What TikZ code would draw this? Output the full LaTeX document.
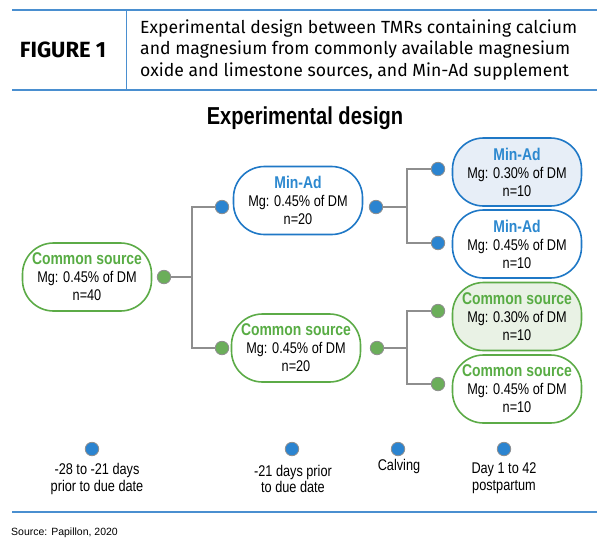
\documentclass[tikz,border=0pt]{standalone}
\usepackage{fontspec}
\setmainfont{Liberation Sans}
\newfontfamily\cond{Liberation Sans}[FakeStretch=0.82]
\newfontfamily\hdr{Fira Sans}
\usetikzlibrary{positioning}
\definecolor{hblue}{HTML}{4A8FD0}
\definecolor{nblue}{HTML}{1F78C6}
\definecolor{tblue}{HTML}{2C88CF}
\definecolor{ngreen}{HTML}{5CAB47}
\definecolor{tgreen}{HTML}{58AC44}
\definecolor{fblue}{HTML}{E7EEF7}
\definecolor{fgreen}{HTML}{E9F2E5}
\definecolor{dblue}{HTML}{2B84D0}
\definecolor{dgreen}{HTML}{6BAE5A}
\definecolor{lgray}{HTML}{8E8E8E}
\tikzset{
  pill/.style={draw, line width=1.6pt, rounded corners=31pt, minimum width=129pt, minimum height=68pt, inner sep=0pt, align=center, font=\cond\fontsize{15.5}{18}\selectfont},
  bluepill/.style={pill, draw=nblue},
  greenpill/.style={pill, draw=ngreen},
  dot/.style={circle, draw=lgray, line width=0.8pt, minimum size=13.5pt, inner sep=0pt},
  bdot/.style={dot, fill=dblue},
  gdot/.style={dot, fill=dgreen},
  conn/.style={draw=lgray, line width=1.3pt},
  tl/.style={font=\cond\fontsize{15.5}{16.5}\selectfont, align=center, inner sep=0pt},
  hline/.style={draw=hblue, line width=1.6pt}
}
\newcommand{\bt}[1]{{\color{tblue}\bfseries\fontsize{17}{18}\selectfont #1}}
\newcommand{\gt}[1]{{\color{tgreen}\bfseries\fontsize{17}{18}\selectfont #1}}
\begin{document}
\begin{tikzpicture}[x=1pt,y=-1pt]
\useasboundingbox (0,0) rectangle (610,550);
% header
\draw[hline] (12,10) -- (597,10);
\draw[hline] (12,90) -- (597,90);
\draw[draw=hblue, line width=0.9pt] (126,10) -- (126,90);
\node[font=\hdr\bfseries\fontsize{22}{24}\selectfont] (fig) at (63,50) {FIGURE 1};
\node[anchor=west, align=left, inner sep=0pt, font=\hdr\fontsize{17.6}{21.5}\selectfont] (cap) at (140,50)
  {Experimental design between TMRs containing calcium\\and magnesium from commonly available magnesium\\oxide and limestone sources, and Min-Ad supplement};
% title
\node[font=\cond\bfseries\fontsize{24.5}{28}\selectfont] (title) at (305,118) {Experimental design};
% nodes
\node[greenpill] (root) at (87,277) {\gt{Common source}\\Mg: 0.45\% of DM\\n=40};
\node[bluepill] (ma) at (298,200.5) {\bt{Min-Ad}\\Mg: 0.45\% of DM\\n=20};
\node[greenpill] (cs) at (296,348) {\gt{Common source}\\Mg: 0.45\% of DM\\n=20};
\node[bluepill, fill=fblue] (r1) at (517,172) {\bt{Min-Ad}\\Mg: 0.30\% of DM\\n=10};
\node[bluepill] (r2) at (517,244) {\bt{Min-Ad}\\Mg: 0.45\% of DM\\n=10};
\node[greenpill, fill=fgreen] (r3) at (517,316.5) {\gt{Common source}\\Mg: 0.30\% of DM\\n=10};
\node[greenpill] (r4) at (517,389) {\gt{Common source}\\Mg: 0.45\% of DM\\n=10};
% dots
\node[gdot] (d0) at (164,277) {};
\node[bdot] (d1) at (222,207) {};
\node[gdot] (d2) at (222,348) {};
\node[bdot] (d3) at (376,207) {};
\node[gdot] (d4) at (377,348) {};
\node[bdot] (d5) at (438,169) {};
\node[bdot] (d6) at (438,243) {};
\node[gdot] (d7) at (438,311) {};
\node[gdot] (d8) at (438,384) {};
% junctions
\coordinate (j0) at (192,277);
\coordinate (j1) at (407,207);
\coordinate (j2) at (407,348);
\draw[conn] (d0.east) -- (j0) |- (d1.west);
\draw[conn] (j0) |- (d2.west);
\draw[conn] (d3.east) -- (j1) |- (d5.west);
\draw[conn] (j1) |- (d6.west);
\draw[conn] (d4.east) -- (j2) |- (d7.west);
\draw[conn] (j2) |- (d8.west);
% timeline
\node[bdot] (t1) at (92,449) {};
\node[bdot] (t2) at (292,449) {};
\node[bdot] (t3) at (398,449) {};
\node[bdot] (t4) at (504,449) {};
\node[tl] (l1) at (97,479) {-28 to -21 days\\prior to due date};
\node[tl] (l2) at (293,479) {-21 days prior\\to due date};
\node[tl] (l3) at (399,466) {Calving};
\node[tl] (l4) at (504,478) {Day 1 to 42\\postpartum};
% footer
\draw[hline] (12,512) -- (597,512);
\node[anchor=west, inner sep=0pt, font=\fontsize{10.5}{12}\selectfont] (src) at (11,533) {Source: Papillon, 2020};
\end{tikzpicture}
\end{document}
